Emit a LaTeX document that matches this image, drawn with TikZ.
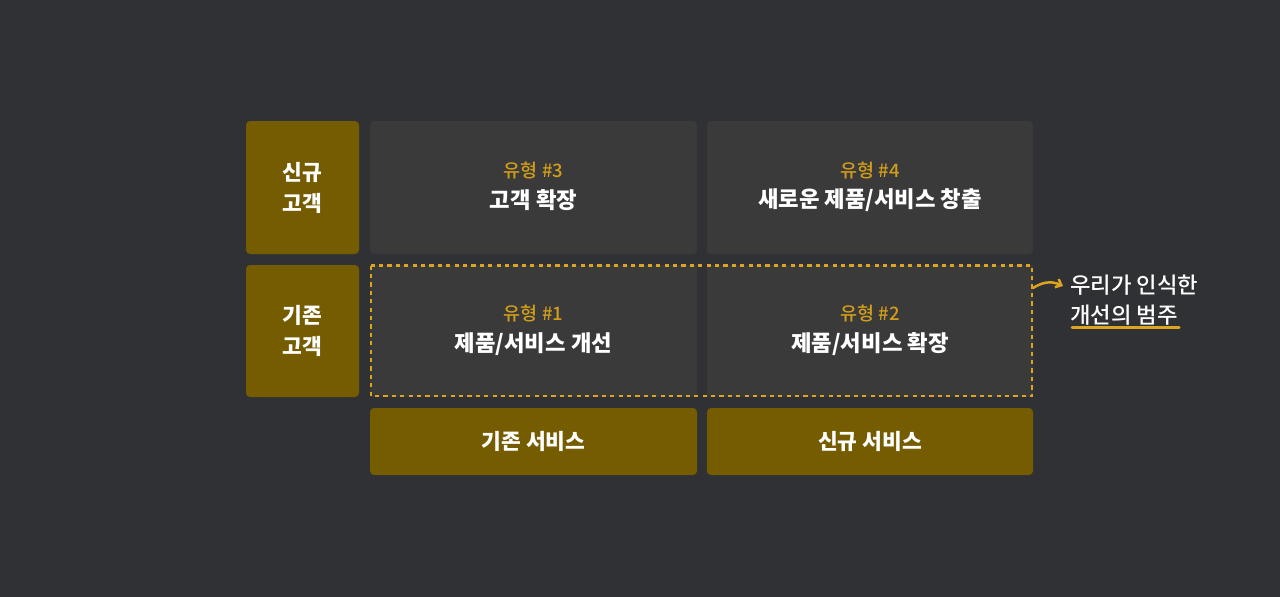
\documentclass[tikz,border=0pt]{standalone}
\usepackage{fontspec}
\setmainfont{Noto Sans CJK KR}
\newfontfamily\medfont{Noto Sans CJK KR Medium}
\usetikzlibrary{arrows.meta}
\definecolor{bg}{HTML}{303135}
\definecolor{cellc}{HTML}{3A3A3A}
\definecolor{goldbox}{HTML}{765C00}
\definecolor{goldline}{HTML}{DDA51E}
\definecolor{goldtext}{HTML}{D29E1A}
\tikzset{
  cellbox/.style={fill=cellc, rounded corners=4pt, draw=none},
  axisbox/.style={fill=goldbox, rounded corners=4pt, draw=none},
  axistext/.style={text=white, font=\fontsize{21.5}{31}\selectfont\bfseries, align=center},
  typetext/.style={text=goldtext, font=\fontsize{18.5}{22}\selectfont\medfont},
  titletext/.style={text=white, font=\fontsize{22.3}{26}\selectfont\bfseries},
  notetext/.style={text=white, font=\fontsize{22.3}{26}\selectfont\medfont},
}
\begin{document}
\begin{tikzpicture}[x=1pt,y=-1pt]
\fill[bg] (0,0) rectangle (1280,597);
\useasboundingbox (0,0) rectangle (1280,597);
% axis boxes
\fill[axisbox] (246,121) rectangle (359,254);
\fill[axisbox] (246,265) rectangle (359,397);
\fill[axisbox] (370,408) rectangle (697,475);
\fill[axisbox] (707,408) rectangle (1033,475);
% cells
\fill[cellbox] (370,121) rectangle (697,254);
\fill[cellbox] (707,121) rectangle (1033,254);
\fill[cellc] (370,265) rectangle (697,397);
\fill[cellc] (707,265) rectangle (1033,397);
% dashed border
\draw[goldline, line width=2.4pt, dash pattern=on 4.3pt off 4.1pt] (371,265.5) rectangle (1032,396);
% axis labels
\node[axistext] (newc) at (302.5,187.5) {신규\\고객};
\node[axistext] (oldc) at (302.5,331) {기존\\고객};
\node[axistext] (olds) at (533.5,441.5) {기존 서비스};
\node[axistext] (news) at (870,441.5) {신규 서비스};
% cell texts
\node[typetext] (t3) at (533.5,170) {유형 \#3};
\node[titletext] (c3) at (533.5,200.5) {고객 확장};
\node[typetext] (t4) at (870,170) {유형 \#4};
\node[titletext] (c4) at (870,200.5) {새로운 제품/서비스 창출};
\node[typetext] (t1) at (533.5,313) {유형 \#1};
\node[titletext] (c1) at (533.5,344.5) {제품/서비스 개선};
\node[typetext] (t2) at (870,313) {유형 \#2};
\node[titletext] (c2) at (870,344.5) {제품/서비스 확장};
% annotation
\node[notetext, anchor=west, inner sep=0pt] (n1) at (1070,285) {우리가 인식한};
\node[notetext, anchor=west, inner sep=0pt] (n2) at (1070,315) {개선의 범주};
\coordinate (ul1) at (1072,327);
\coordinate (ul2) at (1179,327);
\draw[goldline, line width=3pt, line cap=round] (ul1) -- (ul2);
\coordinate (as) at (1033,288);
\draw[goldline, line width=2.5pt, line cap=round, -{Straight Barb[length=5pt,width=9pt]}] (as) .. controls (1041,283) and (1050,280) .. ([xshift=-7pt,yshift=-1pt]n1.west);
\end{tikzpicture}
\end{document}
